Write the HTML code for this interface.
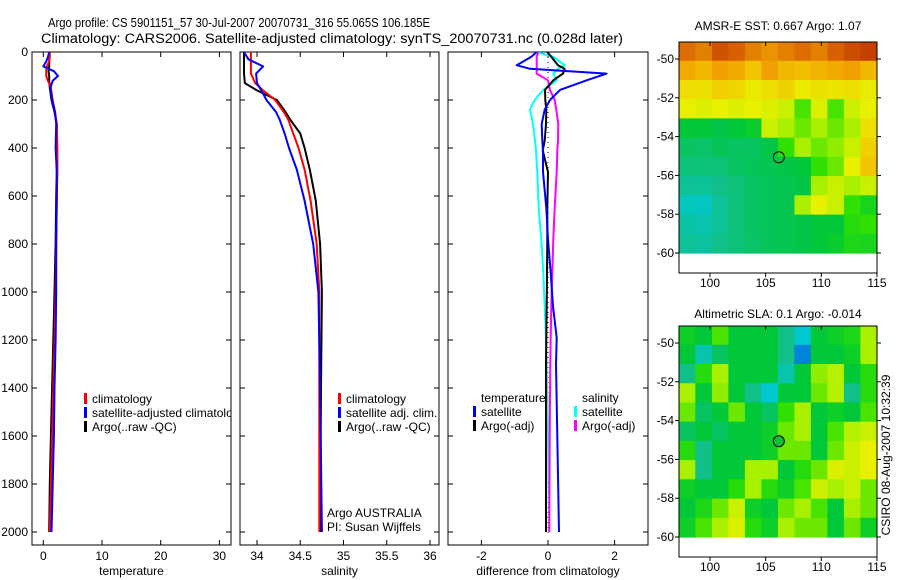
<!DOCTYPE html>
<html><head><meta charset="utf-8"><style>
html,body{margin:0;padding:0;background:#fff;}
svg{display:block;font-family:"Liberation Sans",sans-serif;}
</style></head><body>
<svg id="fig" width="900" height="580" viewBox="0 0 900 580" xmlns="http://www.w3.org/2000/svg">
<text x="48" y="27" font-size="13" textLength="382" lengthAdjust="spacingAndGlyphs">Argo profile: CS 5901151_57 30-Jul-2007 20070731_316 55.065S 106.185E</text>
<text x="41" y="43" font-size="13.5" textLength="582" lengthAdjust="spacingAndGlyphs">Climatology: CARS2006. Satellite-adjusted climatology: synTS_20070731.nc (0.028d later)</text>
<text x="778" y="30" font-size="12" text-anchor="middle">AMSR-E SST: 0.667 Argo: 1.07</text>
<text x="778" y="318" font-size="12" text-anchor="middle">Altimetric SLA: 0.1 Argo: -0.014</text>
<text transform="translate(890,455) rotate(-90)" font-size="12" text-anchor="middle">CSIRO 08-Aug-2007 10:32:39</text>
<g id="plots"></g>
</svg>
<script>
// depth levels (m)
const depths = [0,20,40,60,80,100,120,150,200,250,300,400,500,600,800,1000,1200,1400,1600,1800,2000];
// temperature
const tempClim = [1.1,1.1,1.0,0.6,0.5,0.5,0.8,1.3,1.6,2.0,2.3,2.4,2.4,2.3,2.2,2.1,1.9,1.7,1.5,1.3,1.1];
const tempSat  = [1.0,0.8,0.5,0.0,1.8,2.5,1.6,1.2,1.5,2.0,2.2,2.1,2.3,2.3,2.2,2.2,2.1,1.9,1.8,1.6,1.4];
const tempArgo = [1.0,1.0,1.0,1.0,0.9,1.0,1.0,1.1,1.4,1.9,2.3,2.3,2.3,2.2,2.1,1.9,1.7,1.5,1.3,1.1,1.0];
// salinity
const salDepths = [0,30,60,90,130,160,200,250,280,340,400,490,620,800,1000,1400,2000];
const salArgo = [33.85,33.85,33.85,33.85,33.86,34.0,34.23,34.33,34.38,34.5,34.55,34.61,34.68,34.73,34.75,34.74,34.73];
const salClim = [33.93,33.93,33.93,33.93,33.98,34.07,34.21,34.31,34.36,34.42,34.48,34.55,34.62,34.69,34.72,34.72,34.72];
const salSat  = [33.85,33.9,34.07,33.99,34.0,34.05,34.11,34.22,34.26,34.32,34.37,34.46,34.55,34.65,34.71,34.73,34.75];
// differences from climatology
const diffDepths = [0,20,55,70,90,118,158,200,240,300,370,410,500,650,780,920,1060,1190,1300,1600,2000];
const dTempSat  = [-0.34,-0.5,-0.94,-0.54,1.76,1.16,0.36,0.06,-0.1,-0.19,-0.17,-0.15,-0.15,-0.05,0.0,0.08,0.15,0.26,0.24,0.28,0.33];
const dTempArgo = [-0.02,0.1,0.3,0.5,0.45,0.16,-0.09,-0.08,-0.05,-0.06,-0.1,-0.16,0.0,-0.02,-0.02,-0.03,-0.04,-0.05,-0.06,-0.06,-0.06];
const dSalSat   = [-0.34,0.16,0.5,0.3,0.16,0.26,-0.14,-0.4,-0.54,-0.45,-0.39,-0.36,-0.32,-0.28,-0.2,-0.14,-0.1,-0.06,-0.04,0.0,0.04];
const dSalArgo  = [-0.29,-0.34,-0.34,-0.34,-0.34,0.0,0.06,0.2,0.25,0.31,0.3,0.28,0.26,0.2,0.16,0.13,0.1,0.08,0.07,0.05,0.04];
// tick labels
const depthTicks = [0,200,400,600,800,1000,1200,1400,1600,1800,2000];
const tempTicks = [0,10,20,30];
const salTicks = [34,34.5,35,35.5,36];
const diffTicks = [-2,0,2];
const lonTicks = [100,105,110,115];
const latTicks = [-50,-52,-54,-56,-58,-60];
// map grids (normalized colour index 0..1), rows north->south, cols west->east
const sstGrid = [
[0.88,0.85,0.92,0.9,0.85,0.82,0.85,0.88,0.85,0.9,0.93,0.95],
[0.78,0.75,0.8,0.78,0.72,0.8,0.75,0.74,0.76,0.78,0.8,0.75],
[0.66,0.65,0.7,0.68,0.62,0.66,0.7,0.62,0.65,0.64,0.66,0.62],
[0.6,0.58,0.6,0.58,0.6,0.58,0.55,0.42,0.58,0.42,0.55,0.6],
[0.3,0.3,0.28,0.3,0.32,0.55,0.5,0.45,0.5,0.45,0.5,0.65],
[0.25,0.24,0.26,0.25,0.25,0.28,0.4,0.5,0.45,0.48,0.55,0.7],
[0.22,0.22,0.22,0.25,0.26,0.27,0.28,0.3,0.4,0.45,0.6,0.72],
[0.18,0.18,0.2,0.22,0.25,0.26,0.27,0.28,0.5,0.55,0.5,0.55],
[0.13,0.12,0.18,0.22,0.25,0.26,0.27,0.5,0.6,0.55,0.4,0.35],
[0.16,0.15,0.18,0.22,0.25,0.26,0.27,0.28,0.3,0.3,0.38,0.4],
[0.18,0.17,0.2,0.22,0.24,0.26,0.27,0.28,0.3,0.32,0.36,0.35]];
const slaGrid = [
[0.33,0.3,0.42,0.3,0.3,0.3,0.2,0.1,0.3,0.33,0.36,0.5],
[0.3,0.15,0.25,0.3,0.3,0.3,0.2,0.05,0.3,0.3,0.33,0.5],
[0.2,0.38,0.5,0.3,0.3,0.3,0.15,0.3,0.48,0.52,0.3,0.38],
[0.5,0.3,0.48,0.3,0.2,0.1,0.3,0.3,0.45,0.52,0.2,0.38],
[0.45,0.25,0.3,0.45,0.3,0.25,0.4,0.5,0.3,0.33,0.3,0.42],
[0.25,0.3,0.25,0.3,0.3,0.33,0.45,0.5,0.3,0.42,0.52,0.55],
[0.38,0.2,0.3,0.3,0.3,0.33,0.45,0.45,0.3,0.45,0.55,0.6],
[0.5,0.2,0.3,0.3,0.5,0.5,0.3,0.38,0.45,0.58,0.55,0.6],
[0.33,0.3,0.3,0.38,0.5,0.38,0.33,0.42,0.55,0.5,0.55,0.45],
[0.3,0.36,0.45,0.55,0.33,0.3,0.45,0.5,0.42,0.3,0.5,0.45],
[0.33,0.42,0.5,0.58,0.38,0.33,0.5,0.45,0.45,0.3,0.45,0.33]];
const floatLon = 106.185, floatLat = -55.065;

const NS='http://www.w3.org/2000/svg';
const root=document.getElementById('plots');
function mk(tag,attrs,parent){const e=document.createElementNS(NS,tag);for(const k in attrs)e.setAttribute(k,attrs[k]);(parent||root).appendChild(e);return e;}
function txt(s,attrs,parent){const e=mk('text',attrs,parent);e.textContent=s;return e;}

const yTop=52, yBot=545;
function yDepth(d){return yTop + d*0.24;}

function panel(name,x0,x1,xs,ticks,fmt,label,idx){
  const g=mk('g',{});
  
  
  const cp=mk('clipPath',{id:'clip'+idx},g);
  mk('rect',{x:x0,y:yTop,width:x1-x0,height:yBot-yTop},cp);
  const frame=mk('rect',{x:x0,y:yTop,width:x1-x0,height:yBot-yTop,fill:'none',stroke:'#000','stroke-width':1},g);
  
  
  ticks.forEach(t=>{const x=xs(t);
    mk('line',{x1:x,x2:x,y1:yTop,y2:yTop+5,stroke:'#000'},g);
    mk('line',{x1:x,x2:x,y1:yBot,y2:yBot-5,stroke:'#000'},g);
    const tl=txt(fmt(t),{x:x,y:yBot+15,'font-size':12,'text-anchor':'middle'},g);
    
    
  });
  depthTicks.forEach(d=>{const y=yDepth(d);
    mk('line',{x1:x0,x2:x0+5,y1:y,y2:y,stroke:'#000'},g);
    mk('line',{x1:x1,x2:x1-5,y1:y,y2:y,stroke:'#000'},g);
  });
  const al=txt(label,{x:(x0+x1)/2,y:575,'font-size':12,'text-anchor':'middle'},g);
  
  
  const inner=mk('g',{'clip-path':'url(#clip'+idx+')'},g);
  return inner;
}
function series(parent,name,ds,vs,xs,color,w){
  const pts=ds.map((d,i)=>xs(vs[i]).toFixed(1)+','+yDepth(d).toFixed(1)).join(' ');
  const p=mk('polyline',{points:pts,fill:'none',stroke:color,'stroke-width':w||2,'stroke-linejoin':'round'},parent);
  
  
}
function legend(parent,items,x,y){
  items.forEach((it,i)=>{
    const yy=y+i*14;
    mk('rect',{x:x,y:yy-10,width:3,height:11,fill:it[1]},parent);
    const t=txt(it[0],{x:x+8,y:yy,'font-size':12},parent);
    
    
  });
}

depthTicks.forEach(d=>{const t=txt(String(d),{x:28,y:yDepth(d)+4,'font-size':12,'text-anchor':'end'});
  
  
});

const xT=v=>43.3+v*5.87;
const p1=panel('temperature-panel',32,231,xT,tempTicks,String,'temperature',1);
series(p1,'temp-argo-line',depths,tempArgo,xT,'#000');
series(p1,'temp-climatology-line',depths,tempClim,xT,'#f00');
series(p1,'temp-satellite-line',depths,tempSat,xT,'#00f');
legend(p1,[['climatology','#f00'],['satellite-adjusted climatology','#00f'],['Argo(..raw -QC)','#000']],84,403);

const xS=v=>257+(v-34)*86.5;
const p2=panel('salinity-panel',240,439,xS,salTicks,String,'salinity',2);
series(p2,'sal-argo-line',salDepths,salArgo,xS,'#000');
series(p2,'sal-climatology-line',salDepths,salClim,xS,'#f00');
series(p2,'sal-satellite-line',salDepths,salSat,xS,'#00f');
legend(p2,[['climatology','#f00'],['satellite adj. clim.','#00f'],['Argo(..raw -QC)','#000']],338,403);
const a1=txt('Argo AUSTRALIA',{x:327,y:517,'font-size':12},p2);


const a2=txt('PI: Susan Wijffels',{x:327,y:531,'font-size':12},p2);



const xD=v=>548+v*33.3;
const p3=panel('difference-panel',448,648,xD,diffTicks,String,'difference from climatology',3);
mk('line',{x1:xD(0),x2:xD(0),y1:yTop,y2:yBot-12,stroke:'#000','stroke-dasharray':'1,4'},p3);
series(p3,'diff-sal-satellite-line',diffDepths,dSalSat,xD,'#0ff');
series(p3,'diff-sal-argo-line',diffDepths,dSalArgo,xD,'#f0f');
series(p3,'diff-temp-argo-line',diffDepths,dTempArgo,xD,'#000');
series(p3,'diff-temp-satellite-line',diffDepths,dTempSat,xD,'#00f');
const lt=txt('temperature',{x:481,y:402,'font-size':12},p3);


legend(p3,[['satellite','#00f'],['Argo(-adj)','#000']],473,416);
const ls=txt('salinity',{x:582,y:402,'font-size':12},p3);


legend(p3,[['satellite','#0ff'],['Argo(-adj)','#f0f']],574,416);

const stops=[[0,'#0040e0'],[0.1,'#00c8d0'],[0.2,'#10c088'],[0.3,'#00c838'],[0.4,'#30e000'],[0.5,'#a8f000'],[0.6,'#e8f000'],[0.7,'#f0d000'],[0.8,'#f0a000'],[0.9,'#d86000'],[1,'#b02000']];
function hex(c){return [1,3,5].map(i=>parseInt(c.substr(i,2),16));}
function cmap(v){v=Math.max(0,Math.min(1,v));for(let i=1;i<stops.length;i++){if(v<=stops[i][0]){const a=stops[i-1],b=stops[i];const f=(v-a[0])/(b[0]-a[0]);const A=hex(a[1]),B=hex(b[1]);return 'rgb('+A.map((x,k)=>Math.round(x+(B[k]-x)*f)).join(',')+')';}}return stops[stops.length-1][1];}

function map(name,grid,top,filledMarker){
  const bot=top+231;
  const lonX=l=>710+(l-100)*11.13;
  const latY=l=>top+17+(-50-l)*19.4;
  const g=mk('g',{});
  
  
  const lon0=97.2,lon1=115,lat0=-49.1,lat1=-60;
  const nr=grid.length,nc=grid[0].length;
  const dl=(lon1-lon0)/nc, dt=(lat0-lat1)/nr;
  grid.forEach((row,r)=>row.forEach((v,c)=>{
    const x=lonX(lon0+c*dl),y=latY(lat0-r*dt);
    const cell=mk('rect',{x:x.toFixed(1),y:y.toFixed(1),width:(lonX(lon0+(c+1)*dl)-x+0.6).toFixed(1),height:(latY(lat0-(r+1)*dt)-y+0.6).toFixed(1),fill:cmap(v)},g);
    
    
  }));
  mk('rect',{x:679,y:top,width:198,height:bot-top,fill:'none',stroke:'#000'},g);
  lonTicks.forEach(l=>{const x=lonX(l);
    mk('line',{x1:x,x2:x,y1:top,y2:top+4,stroke:'#000'},g);
    mk('line',{x1:x,x2:x,y1:bot,y2:bot+4,stroke:'#000'},g);
    const t=txt(String(l),{x:x,y:bot+14,'font-size':12,'text-anchor':'middle'},g);
    
    
  });
  latTicks.forEach(l=>{const y=latY(l);
    mk('line',{x1:675,x2:679,y1:y,y2:y,stroke:'#000'},g);
    mk('line',{x1:877,x2:881,y1:y,y2:y,stroke:'#000'},g);
    const t=txt(String(l),{x:674,y:y+4,'font-size':12,'text-anchor':'end'},g);
    
    
  });
  const m=mk('circle',{cx:lonX(floatLon),cy:latY(floatLat),r:5.5,fill:filledMarker?'#10c030':'none',stroke:'#000','stroke-width':1},g);
  
  
}
map('sst-map',sstGrid,42,false);
map('sla-map',slaGrid,326,true);
</script>
</body></html>
